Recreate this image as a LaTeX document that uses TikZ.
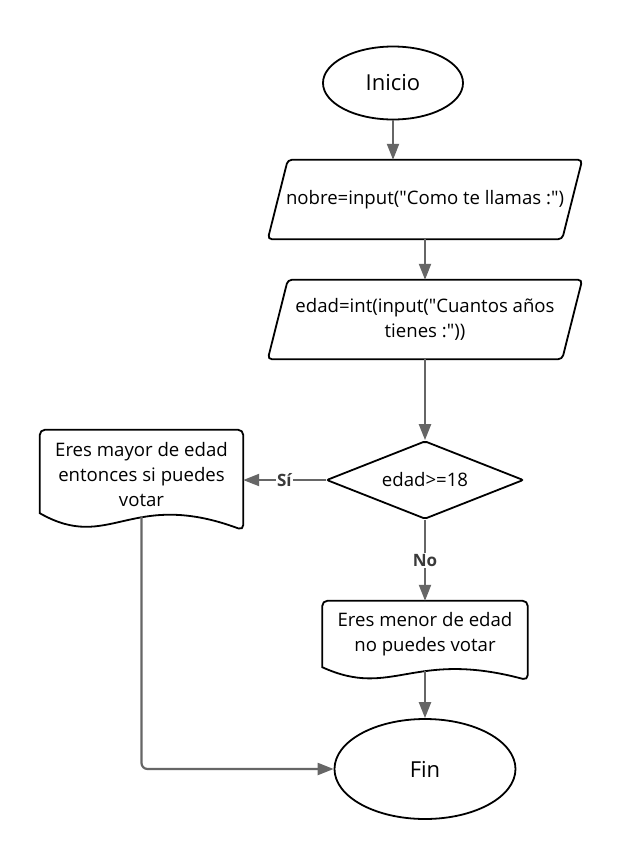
\documentclass[tikz,border=0pt]{standalone}
\usepackage{fontspec}
\setmainfont{Open Sans}[Ligatures=TeXOff]
\usetikzlibrary{shapes.geometric,arrows.meta,calc}

\definecolor{linegray}{HTML}{666666}
\definecolor{labelgray}{HTML}{3A3A3A}

\tikzset{
  outline/.style={draw=black, line width=1.8pt},
  oval/.style={ellipse, outline, fill=white, font=\fontsize{22}{26}\selectfont},
  txt/.style={inner sep=0pt, align=center},
  flow/.style={draw=linegray, line width=2.2pt, -{Triangle[length=16pt,width=12pt]}},
  branch/.style={fill=white, text=labelgray, inner sep=1.5pt, font=\bfseries\fontsize{17}{18}\selectfont},
}

\begin{document}
\begin{tikzpicture}[x=1pt,y=-1pt,font=\fontsize{18.6}{25}\selectfont]
\fill[white] (0,0) rectangle (623,860);
\useasboundingbox (0,0) rectangle (623,860);

\node[oval, minimum width=140, minimum height=73] (inicio) at (393,83) {Inicio};
\node[txt, minimum width=294, minimum height=79] (leer1) at (425,199.5) {nobre=input("Como te llamas :")};
\node[txt, minimum width=294, minimum height=79] (leer2) at (425,319.5) {edad=int(input("Cuantos años\\tienes :"))};
\node[diamond, outline, fill=white, rounded corners=2pt, shape aspect=2.5, minimum width=197, minimum height=78, inner sep=0pt] (cond) at (425,480) {edad>=18};
\node[txt, minimum width=203, minimum height=90] (si) at (141.5,475) {Eres mayor de edad\\entonces si puedes\\votar};
\node[txt, minimum width=205, minimum height=66] (no) at (425,634) {Eres menor de edad\\no puedes votar};
\node[oval, minimum width=181, minimum height=100] (fin) at (425,769) {Fin};

\foreach \p in {leer1,leer2}
  \draw[outline, rounded corners=4pt] ([xshift=10pt]\p.north west) -- ([xshift=10pt]\p.north east)
    -- ([xshift=-10pt]\p.south east) -- ([xshift=-10pt]\p.south west) -- cycle;

\draw[outline] ($(si.south west)+(0,-7)$) [rounded corners=5pt] -- (si.north west) -- (si.north east)
  -- ($(si.south east)+(0,10)$) [sharp corners] .. controls +(-113,-42) and +(70,40) .. ($(si.south west)+(0,-7)$) -- cycle;
\draw[outline] (no.south west) [rounded corners=5pt] -- (no.north west) -- (no.north east)
  -- ($(no.south east)+(0,13)$) [sharp corners] .. controls +(-115,-31) and +(70,32) .. (no.south west) -- cycle;

\draw[flow] (inicio.south) -- (inicio.south |- leer1.north);
\draw[flow] (leer1.south) -- (leer2.north);
\draw[flow] (leer2.south) -- (cond.north);
\draw[flow] (cond.west) -- node[branch] {Sí} (cond.west -| si.east);
\draw[flow] (cond.south) -- node[branch] {No} (no.north);
\draw[flow, rounded corners=6pt] ([yshift=4pt]si.south) |- (fin.west);
\draw[flow] ([yshift=-4pt]no.south) -- (fin.north);
\end{tikzpicture}
\end{document}
